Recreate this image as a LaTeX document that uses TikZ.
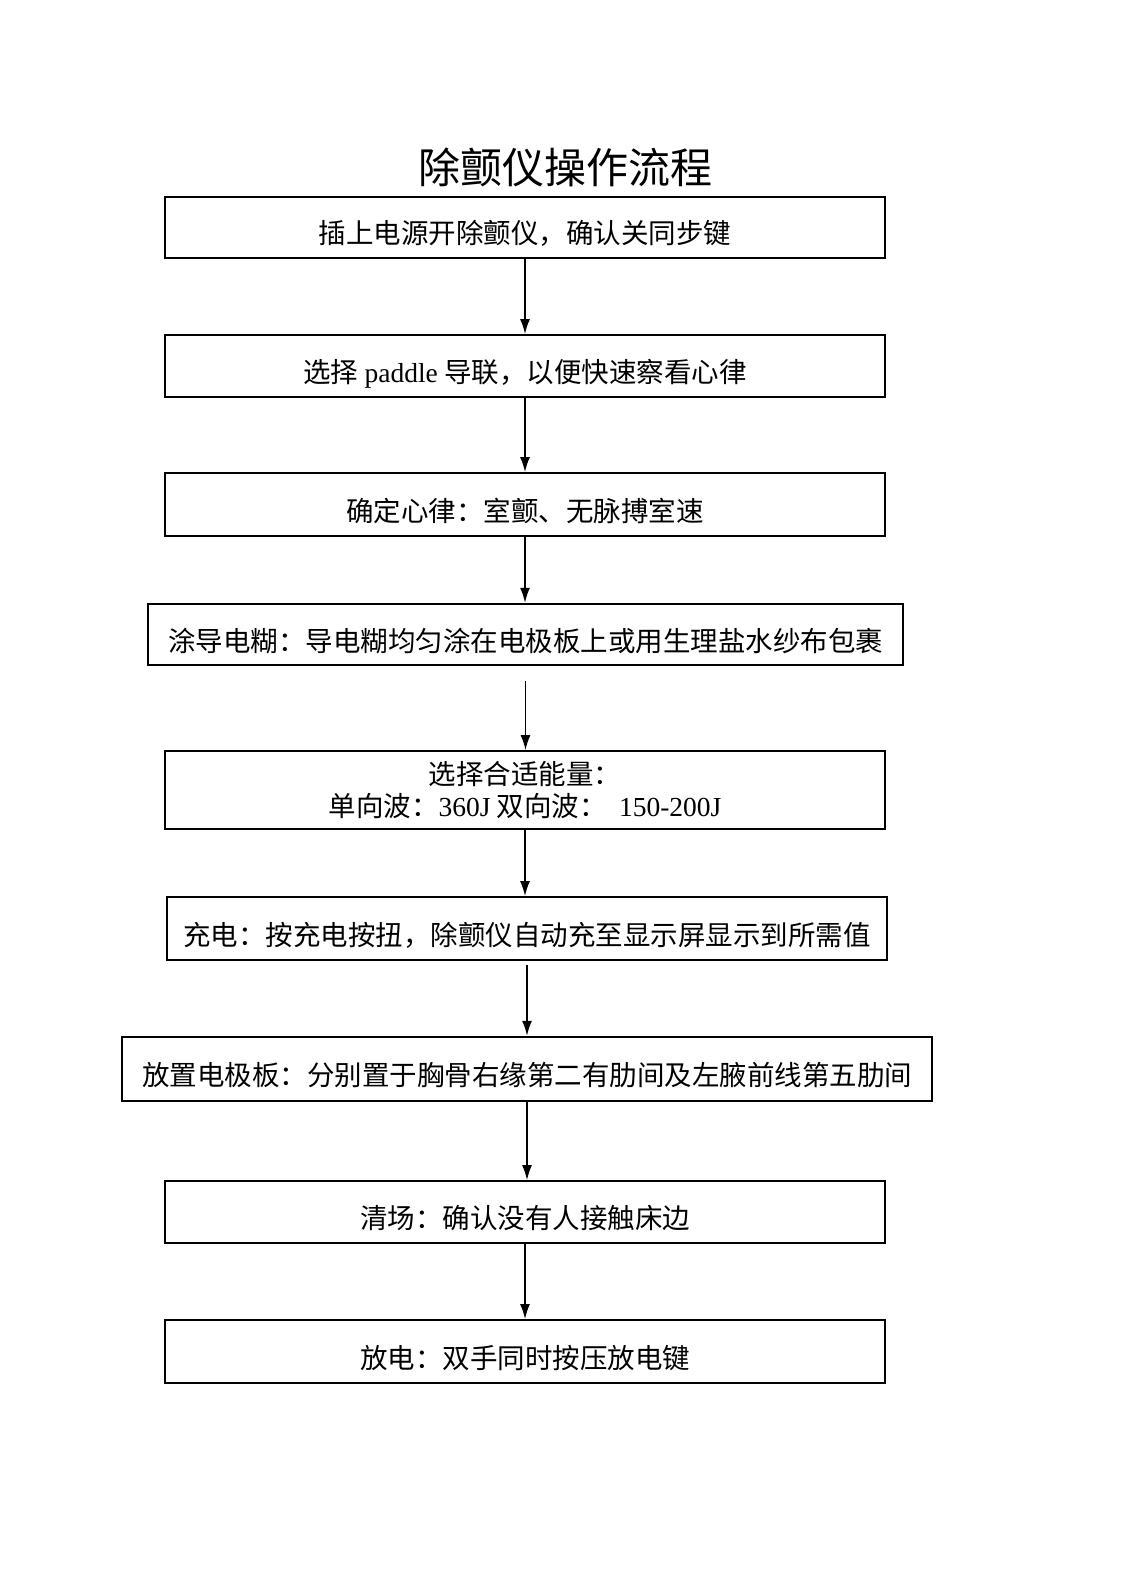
\documentclass[tikz,border=0pt]{standalone}
\usepackage{fontspec}
\setmainfont{Liberation Serif}
\newfontfamily\cjk{Noto Sans CJK SC}
\usetikzlibrary{arrows.meta}
\begin{document}
\begin{tikzpicture}[x=1pt,y=-1pt,
  stepbox/.style={draw,line width=1.8pt,rectangle,inner sep=0pt,minimum width=720pt,font=\fontsize{27.5}{31.5}\selectfont\cjk,align=center},
  oneline/.style={text height=33pt,text depth=0pt},
  arr/.style={line width=1.6pt,-{Latex[length=15pt,width=10pt]}}]
\useasboundingbox (0,0) rectangle (1122,1586);
\node[font=\fontsize{42}{46}\selectfont\cjk] (title) at (565,167) {除颤仪操作流程};
\node[stepbox,oneline,minimum height=61pt] (b1) at (525,227.5) {插上电源开除颤仪，确认关同步键};
\node[stepbox,oneline,minimum height=62pt] (b2) at (525,366) {选择 {\rmfamily paddle} 导联，以便快速察看心律};
\node[stepbox,oneline,minimum height=63pt] (b3) at (525,504.5) {确定心律：室颤、无脉搏室速};
\node[stepbox,oneline,minimum height=61pt,minimum width=755pt,line width=2.4pt] (b4) at (525.5,634.5) {涂导电糊：导电糊均匀涂在电极板上或用生理盐水纱布包裹};
\node[stepbox,minimum height=78pt] (b5) at (525,790) {选择合适能量：\\单向波：{\rmfamily 360J} 双向波：\ \ {\rmfamily 150-200J}};
\node[stepbox,oneline,minimum height=63pt] (b6) at (527,928.5) {充电：按充电按扭，除颤仪自动充至显示屏显示到所需值};
\node[stepbox,oneline,minimum height=64pt,minimum width=810pt,line width=2.4pt] (b7) at (527,1069) {放置电极板：分别置于胸骨右缘第二有肋间及左腋前线第五肋间};
\node[stepbox,oneline,minimum height=62pt] (b8) at (525,1212) {清场：确认没有人接触床边};
\node[stepbox,oneline,minimum height=63pt] (b9) at (525,1351.5) {放电：双手同时按压放电键};
\draw[arr] (b1.south) -- (b1.south |- b2.north);
\draw[arr] (b2.south) -- (b2.south |- b3.north);
\draw[arr] (b3.south) -- (b3.south |- b4.north);
\draw[arr,shorten <=15pt] (b4.south) -- (b4.south |- b5.north);
\draw[arr] (b5.south) -- (b5.south |- b6.north);
\draw[arr,shorten <=4pt] (b6.south) -- (b6.south |- b7.north);
\draw[arr] (b7.south) -- (b7.south |- b8.north);
\draw[arr] (b8.south) -- (b8.south |- b9.north);
\end{tikzpicture}
\end{document}
